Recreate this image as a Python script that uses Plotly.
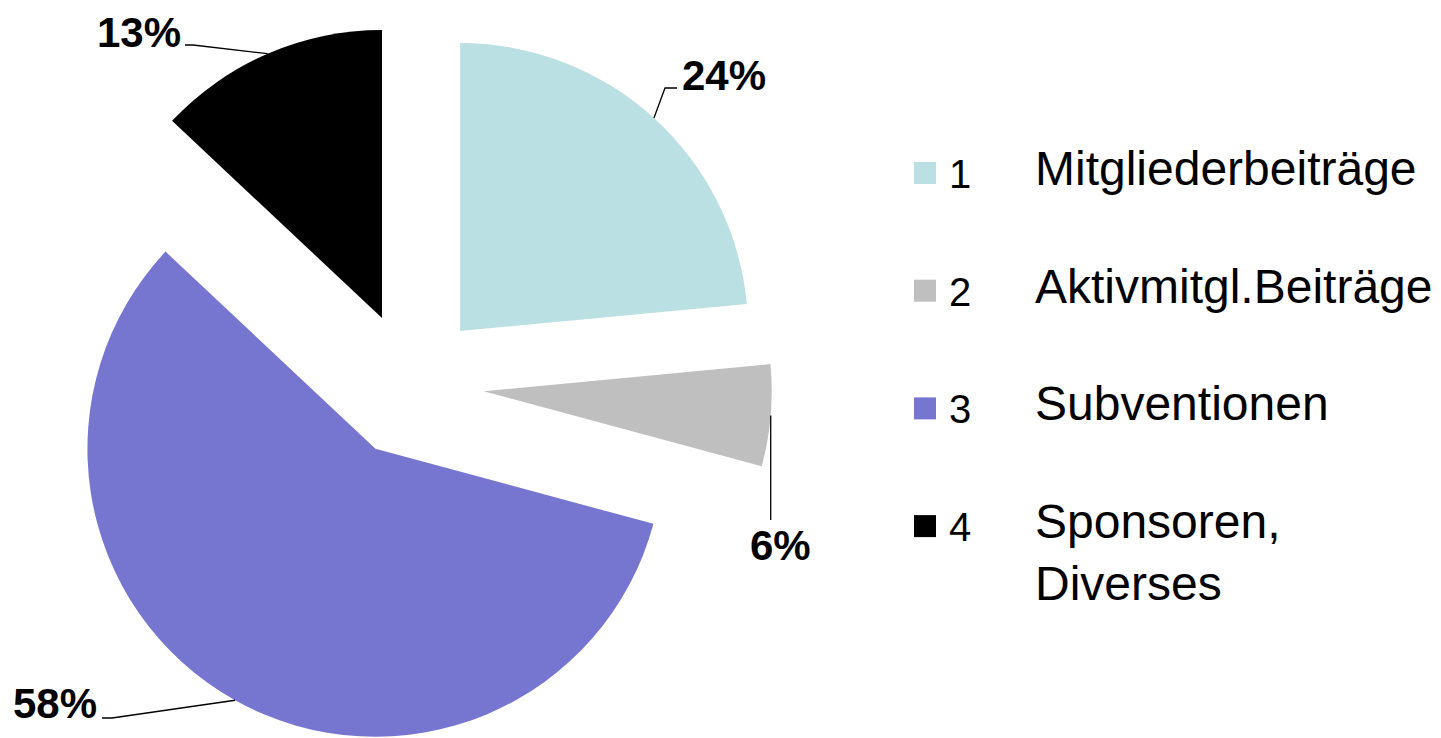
import math
import plotly.graph_objects as go

# ---- data ----
categories = ["Mitgliederbeiträge", "Aktivmitgl.Beiträge", "Subventionen", "Sponsoren,\nDiverses"]
legend_numbers = ["1", "2", "3", "4"]
values = [23.5, 5.7, 57.8, 13.0]

# ---- styles / layout ----
colors = ["#BBE0E3", "#BFBFBF", "#7676D0", "#000000"]
FONT = "Liberation Sans, Arial, sans-serif"
W, H = 1441, 738
OFF = 8                  # page body margin offset of the figure
L, T, R, B = 0, 16, 0, 0
PW, PH = W - L - R, H - T - B
CX = 411 - OFF           # pie centre (figure px)
RY = PH / 2
PULL = 0.2535

def px2paper(x, y):
    """page pixel -> paper coordinates"""
    x, y = x - OFF, y - OFF
    return (x - L) / PW, 1 - (y - T) / PH

dom_x = [(CX - RY - L) / PW, (CX + RY - L) / PW]
CY = T + PH / 2
r = RY / (1 + PULL)
d = PULL * r

fig = go.Figure()
fig.add_trace(go.Pie(
    labels=[c.replace("\n", " ") for c in categories],
    values=values,
    sort=False,
    direction="clockwise",
    rotation=0,
    pull=[PULL] * len(values),
    marker=dict(colors=colors, line=dict(width=0)),
    textinfo="none",
    domain=dict(x=dom_x, y=[0, 1]),
    showlegend=False,
))

# ---- percentage labels with leader lines (page px) ----
label_pos = [(723.5, 75), (780, 545), (55, 703), (138.5, 32)]
leader_elbows = [[(665, 88), (677, 88)], [None], [(112, 718), (102, 718)], [(193, 45), (185, 45)]]

total = sum(values)
cum = 0.0
shapes = []
annotations = []
for i, v in enumerate(values):
    a = math.radians((cum + v / 2) / total * 360)
    cum += v
    ax = CX + (r + d) * math.sin(a) + OFF
    ay = CY - (r + d) * math.cos(a) + OFF
    pts = [(ax, ay)]
    for e in leader_elbows[i]:
        pts.append((ax, 520) if e is None else e)
    path = ""
    for j, (px, py) in enumerate(pts):
        xx, yy = px2paper(px, py)
        path += ("M" if j == 0 else "L") + f"{xx:.5f},{yy:.5f} "
    shapes.append(dict(type="path", path=path, xref="paper", yref="paper",
                       line=dict(color="black", width=1.3)))
    tx, ty = px2paper(*label_pos[i])
    annotations.append(dict(x=tx, y=ty, xref="paper", yref="paper",
                            text=f"<b>{round(v / total * 100)}%</b>", showarrow=False,
                            xanchor="center", yanchor="middle",
                            font=dict(family=FONT, size=42, color="black")))

# ---- legend (drawn manually, page px) ----
ROW0, STEP = 173, 117.7
SQ_X0, SQ_X1, SQ_H = 914, 936, 22
NUM_X, LAB_X = 947, 1033
for i, (num, cat) in enumerate(zip(legend_numbers, categories)):
    yc = ROW0 + i * STEP
    x0, y0 = px2paper(SQ_X0, yc - SQ_H / 2)
    x1, y1 = px2paper(SQ_X1, yc + SQ_H / 2)
    shapes.append(dict(type="rect", xref="paper", yref="paper", x0=x0, x1=x1, y0=y1, y1=y0,
                       fillcolor=colors[i], line=dict(width=0)))
    nx, ny = px2paper(NUM_X, yc + 1)
    annotations.append(dict(x=nx, y=ny, xref="paper", yref="paper", text=num, showarrow=False,
                            xanchor="left", yanchor="middle",
                            font=dict(family=FONT, size=40, color="black")))
    nlines = cat.count("\n") + 1
    lx, ly = px2paper(LAB_X, yc - 4.5 + (nlines - 1) * 31)
    annotations.append(dict(x=lx, y=ly, xref="paper", yref="paper",
                            text=cat.replace("\n", "<br>"), showarrow=False,
                            xanchor="left", yanchor="middle", align="left",
                            font=dict(family=FONT, size=48, color="black")))

fig.update_layout(
    width=W, height=H,
    margin=dict(l=L, r=R, t=T, b=B),
    paper_bgcolor="white", plot_bgcolor="white",
    shapes=shapes, annotations=annotations,
    showlegend=False,
)

fig.write_html("out.html")
